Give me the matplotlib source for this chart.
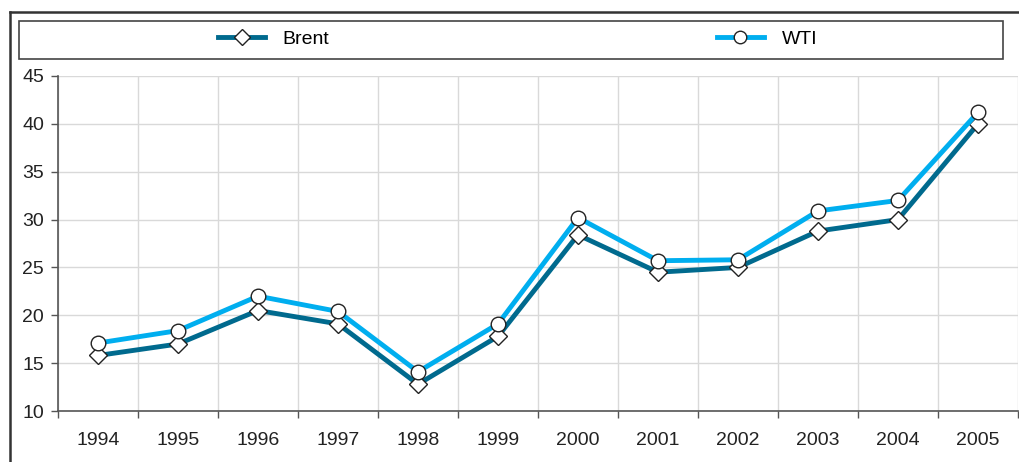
import matplotlib
matplotlib.use("Agg")
import matplotlib.pyplot as plt
from matplotlib.lines import Line2D
from matplotlib.patches import Rectangle
import numpy as np

years = ["1994", "1995", "1996", "1997", "1998", "1999", "2000", "2001", "2002", "2003", "2004", "2005"]
brent = [15.8, 17.0, 20.5, 19.1, 12.8, 17.8, 28.4, 24.5, 25.0, 28.8, 30.0, 40.0]
wti = [17.1, 18.4, 22.0, 20.4, 14.1, 19.1, 30.2, 25.7, 25.8, 30.9, 32.0, 41.2]
yticks = [10, 15, 20, 25, 30, 35, 40, 45]

plt.rcParams['font.family'] = ['Liberation Sans', 'DejaVu Sans']

W, H = 1019, 462
FS = 14
fig = plt.figure(figsize=(W / 100, H / 100), dpi=100)
ax = fig.add_axes([58 / W, 1 - 411 / H, (1018 - 58) / W, (411 - 76) / H])

BRENT_C = "#006a8e"
WTI_C = "#00aeef"
x = np.arange(len(years))

ax.plot(x, brent, color=BRENT_C, lw=3.5, marker="D", markersize=9,
        markerfacecolor="white", markeredgecolor="#222222", markeredgewidth=1, zorder=3,
        clip_on=False)
ax.plot(x, wti, color=WTI_C, lw=3.5, marker="o", markersize=10.5,
        markerfacecolor="white", markeredgecolor="#222222", markeredgewidth=1, zorder=4,
        clip_on=False)

ax.set_xlim(-0.5, len(years) - 0.5)
ax.set_ylim(10, 45)
ax.set_yticks(yticks)
ax.set_xticks(np.arange(len(years) + 1) - 0.5)
ax.set_xticklabels([])
ax.set_xticks(x, minor=True)
ax.set_xticklabels(years, minor=True)
ax.tick_params(axis="x", which="minor", length=0, pad=15, labelsize=FS, labelcolor="#222222")
ax.tick_params(axis="x", which="major", length=5, width=1, color="#555555", direction="out")
ax.tick_params(axis="y", length=5, width=1, color="#555555", direction="out", pad=5,
               labelsize=FS, labelcolor="#222222")

ax.grid(True, which="major", color="#d9d9d9", lw=1)
ax.set_axisbelow(True)
for s in ["top", "right"]:
    ax.spines[s].set_visible(False)
for s in ["left", "bottom"]:
    ax.spines[s].set_color("#555555")
    ax.spines[s].set_linewidth(1.2)

# outer frame lines
fig.add_artist(Line2D([10 / W, 10 / W], [0, 1 - 12 / H], color="#333333", lw=1.8))
fig.add_artist(Line2D([10 / W, 1], [1 - 12 / H, 1 - 12 / H], color="#333333", lw=1.8))

# legend box
fig.add_artist(Rectangle((19 / W, 1 - 59 / H), (1003 - 19) / W, (59 - 21) / H,
                         transform=fig.transFigure, fill=False, edgecolor="#444444", lw=1.2))
h1 = Line2D([], [], color=BRENT_C, lw=3.5, marker="D", markersize=8,
            markerfacecolor="white", markeredgecolor="#222222", markeredgewidth=1)
h2 = Line2D([], [], color=WTI_C, lw=3.5, marker="o", markersize=9,
            markerfacecolor="white", markeredgecolor="#222222", markeredgewidth=1)
fig.legend([h1, h2], ["Brent", "WTI"], ncol=2, frameon=False, fontsize=FS,
           loc="center left", bbox_to_anchor=(208 / W, 1 - 39 / H),
           handlelength=2.45, handletextpad=0.9, columnspacing=19.9, borderpad=0)

fig.savefig("out.png", dpi=100)
